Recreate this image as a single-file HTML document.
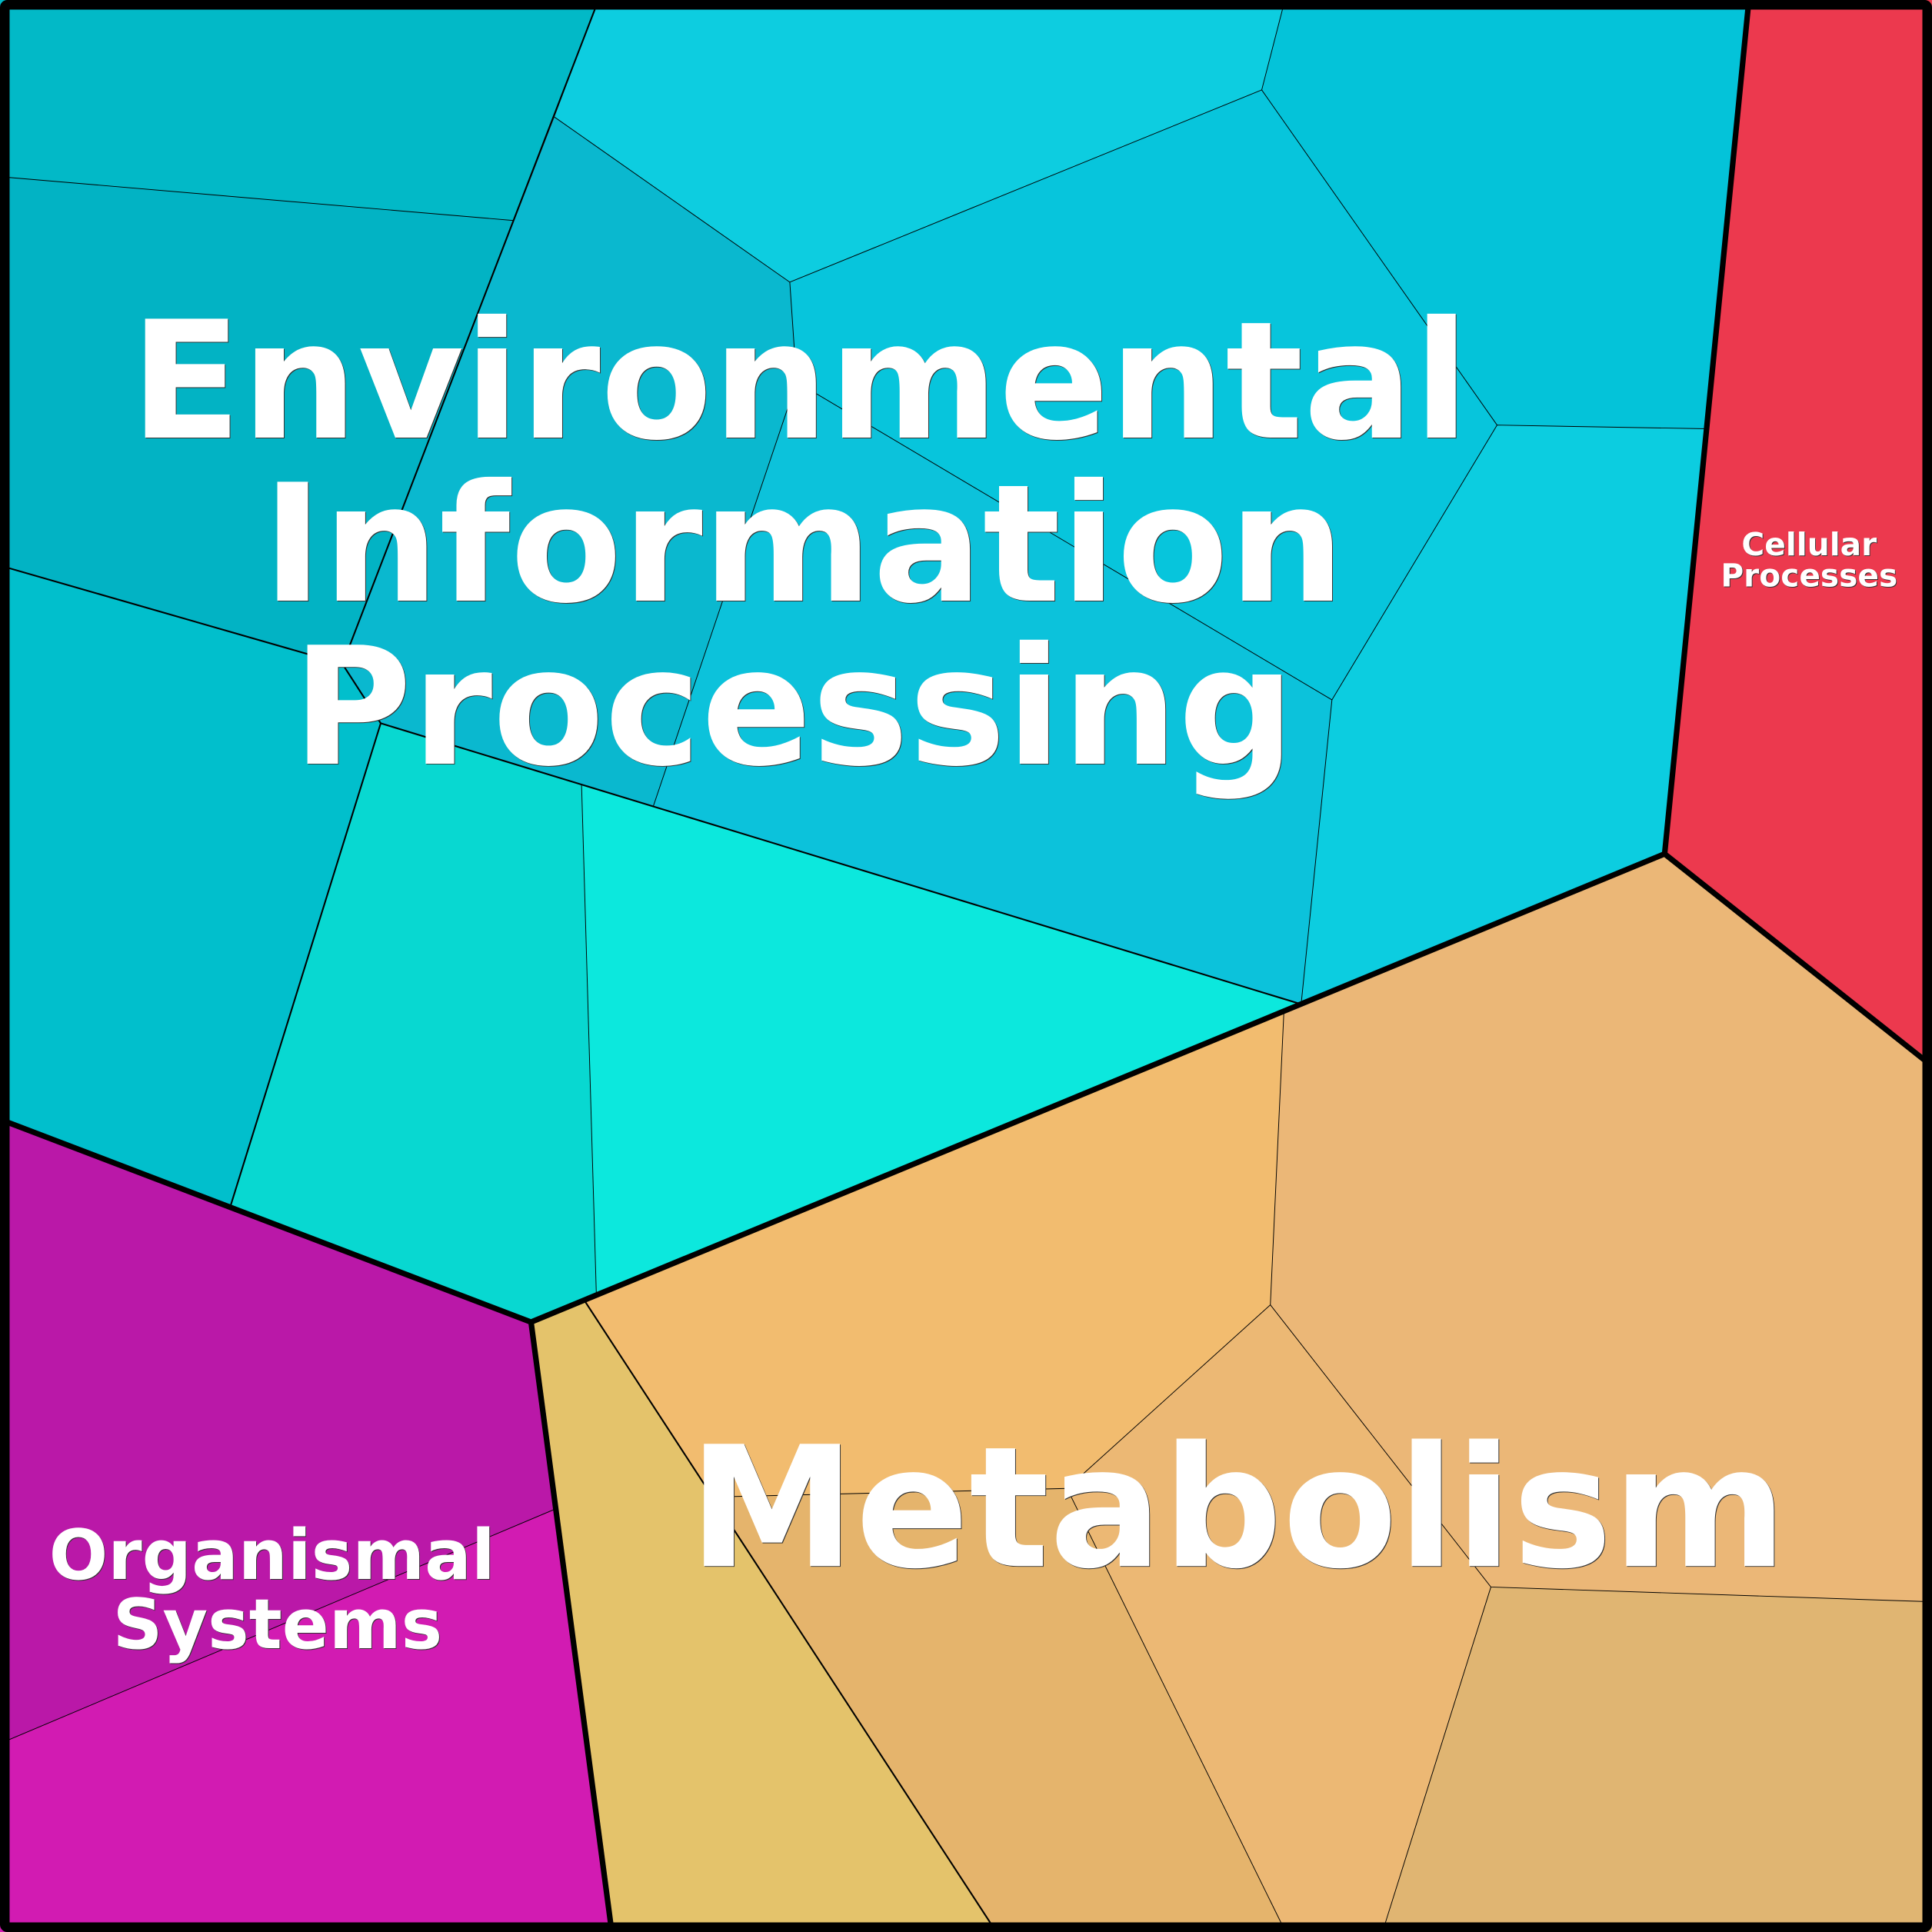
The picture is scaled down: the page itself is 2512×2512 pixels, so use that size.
<!DOCTYPE html>
<html><head><meta charset="utf-8"><style>
html,body{margin:0;padding:0;background:#222}
svg{display:block;width:2512px;height:2512px}
text{font-family:"DejaVu Sans","Liberation Sans",sans-serif;font-weight:bold;text-anchor:middle}
.s{fill:#333}.w{fill:#fff}
.l{fill:none;stroke:#000;stroke-linejoin:miter}
</style></head><body>
<svg viewBox="0 0 1568 1568" xmlns="http://www.w3.org/2000/svg">
<rect width="1568" height="1568" fill="#333"/>
<!-- blue group -->
<polygon fill="#02b9c7" points="0,0 485.7,0 417,179 0,143.4"/>
<polygon fill="#02b3c4" points="0,143.4 417,179 278,539 0,459"/>
<polygon fill="#01bfcc" points="0,459 278,539 309,587 187,979 0,910"/>
<polygon fill="#08d8d1" points="309,587 472,637 484,1051 431,1073 187,979"/>
<polygon fill="#0ce8dd" points="472,637 1056,815 484,1051"/>
<polygon fill="#0ab8cf" points="450,95 641,229 646.5,310 530,655 309,587 278,539"/>
<polygon fill="#0dcde0" points="485.7,0 1042.8,0 1024,73 641,229 450,95"/>
<polygon fill="#07c5dc" points="1024,73 1215,345 1081,568 646.5,310 641,229"/>
<polygon fill="#04c3d9" points="1042.8,0 1419,0 1385,348 1215,345 1024,73"/>
<polygon fill="#0cc2db" points="646.5,310 1081,568 1056,815 530,655"/>
<polygon fill="#0ccde0" points="1215,345 1385,348 1351,693 1056,815 1081,568"/>
<polygon fill="#ec394e" points="1419,0 1568,0 1568,862 1351,693"/>
<!-- metabolism -->
<polygon fill="#ebb777" points="1042,821 1351,693 1568,862 1568,1300 1210,1288 1031,1059"/>
<polygon fill="#f2bc6f" points="474,1055 1042,821 1031,1059 866,1208 577,1215"/>
<polygon fill="#ecb874" points="1031,1059 1210,1288 1122,1568 1043.4,1568 866,1208"/>
<polygon fill="#e5b46c" points="577,1215 866,1208 1043.4,1568 808.6,1568"/>
<polygon fill="#e4c36b" points="431,1073 474,1055 808.6,1568 496,1568"/>
<polygon fill="#e0b572" points="1210,1288 1568,1300 1568,1568 1122,1568"/>
<!-- organismal -->
<polygon fill="#ba18a8" points="0,910 431,1073 450,1225 0,1415"/>
<polygon fill="#d21bb2" points="450,1225 496,1568 0,1568 0,1415"/>
<!-- thin lines -->
<g class="l" stroke-width=".6">
<path d="M0,143.4L417,179"/>
<path d="M450,95L641,229L646.5,310L1081,568L1215,345L1385,348"/>
<path d="M1042.8,0L1024,73L641,229"/>
<path d="M1024,73L1215,345"/>
<path d="M1081,568L1056,815"/>
<path d="M646.5,310L530,655"/>
<path d="M472,637L484,1051"/>
<path d="M1042,821L1031,1059L1210,1288L1568,1300"/>
<path d="M1031,1059L866,1208L577,1215"/>
<path d="M866,1208L1043.4,1568"/>
<path d="M1210,1288L1122,1568"/>
<path d="M450,1225L0,1415"/>
</g>
<g class="l" stroke-width="1.3">
<path d="M485.7,0L278,539"/>
<path d="M0,459L278,539L309,587L187,979"/>
<path d="M309,587L1056,815"/>
<path d="M474,1055L808.6,1568"/>
</g>
<g class="l" stroke-width="4.5">
<path d="M1419,4L1351,693L1564,862"/>
<path d="M4,910L431,1073L1351,693"/>
<path d="M431,1073L496,1564"/>
</g>
<rect x="3.9" y="3.9" width="1560.2" height="1560.2" rx="2" fill="none" stroke="#000" stroke-width="7.8"/>
<g font-size="132.4">
<text class="s" x="649.7" y="355.8">Environmental</text><text class="s" x="652.8" y="488.1">Information</text><text class="s" x="644.7" y="620.4">Processing</text>
<text class="w" x="649.1" y="355.2">Environmental</text><text class="w" x="652.2" y="487.5">Information</text><text class="w" x="644.1" y="619.8">Processing</text>
</g>
<g font-size="136.1">
<text class="s" x="1005.2" y="1271.6">Metabolism</text><text class="w" x="1004.6" y="1271">Metabolism</text>
</g>
<g font-size="56.2">
<text class="s" x="221.4" y="1282.2">Organismal</text><text class="s" x="225.9" y="1338.3">Systems</text>
<text class="w" x="220.8" y="1281.6">Organismal</text><text class="w" x="225.3" y="1337.7">Systems</text>
</g>
<g font-size="25.4">
<text class="s" x="1468.9" y="451.3">Cellular</text><text class="s" x="1468.9" y="476.7">Processes</text>
<text class="w" x="1468.3" y="450.7">Cellular</text><text class="w" x="1468.3" y="476.1">Processes</text>
</g>
</svg>
</body></html>
